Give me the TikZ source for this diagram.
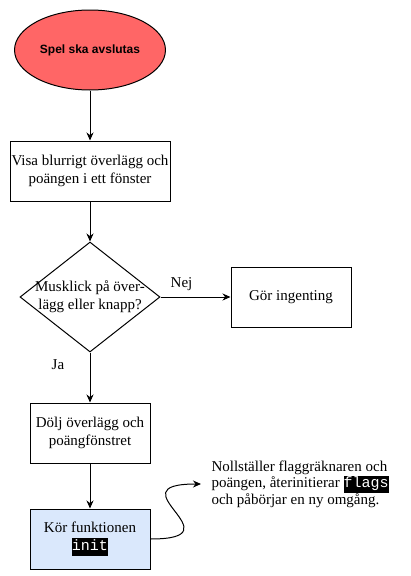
\documentclass[tikz,border=0pt]{standalone}
\usepackage{fontspec}
\setmainfont{Liberation Serif}
\setsansfont{Liberation Sans}
\setmonofont{Liberation Mono}
\usetikzlibrary{positioning, shapes, arrows.meta}

\definecolor{slutrod}{RGB}{255,102,102}
\definecolor{initbla}{RGB}{218,232,252}
\newcommand{\kod}[1]{{\setlength{\fboxsep}{0pt}\colorbox{black}{\strut\textcolor{white}{\ttfamily #1}}}}

\begin{document}
\begin{tikzpicture}[x=1pt, y=-1pt, line width=1pt, font=\fontsize{15}{18}\selectfont,
    ruta/.style={rectangle, draw, minimum width=120pt, minimum height=60pt, align=center, inner sep=0pt},
    pil/.style={-{Stealth[length=8pt, width=7pt]}}]
    \useasboundingbox (0,0) rectangle (411,576);

    \node[ellipse, draw, fill=slutrod, minimum width=120pt, minimum height=80pt, font=\sffamily\bfseries\fontsize{12}{14}\selectfont] (start) at (90,50) {Spel ska avslutas};
    \node[ruta, minimum width=160pt, below=50pt of start] (visa) {Visa blurrigt överlägg och\\poängen i ett fönster};
    \node[diamond, draw, minimum width=140pt, minimum height=110pt, inner sep=0pt, below=40pt of visa, label={[align=center]center:Musklick på över-\\lägg eller knapp?}] (fraga) {};
    \node[ruta, right=70pt of fraga] (ingen) {Gör ingenting};
    \node[ruta, below=50pt of fraga] (dolj) {Dölj överlägg och\\poängfönstret};
    \node[ruta, fill=initbla, below=45pt of dolj] (init) {Kör funktionen\\\kod{init}};
    \node[anchor=west, align=left, inner sep=0pt, font=\fontsize{15}{16.5}\selectfont] (info) at (211,484) {Nollställer flaggräknaren och\\poängen, återinitierar \kod{flags}\\och påbörjar en ny omgång.};

    \draw[pil] (start) -- (visa);
    \draw[pil] (visa) -- (fraga);
    \draw[pil] (fraga) -- node[pos=0.3, above=2pt] {Nej} (ingen);
    \draw[pil] (fraga) -- node[pos=0.24, left=22pt] {Ja} (dolj);
    \draw[pil] (dolj) -- (init);
    \draw[pil] (init.east) .. controls +(90,0) and +(-90,0) .. ([xshift=-10pt]info.west);
\end{tikzpicture}
\end{document}
